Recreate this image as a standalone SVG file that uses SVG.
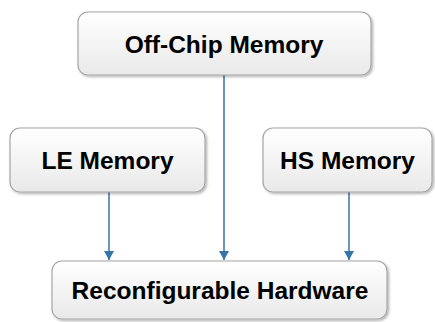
<svg xmlns="http://www.w3.org/2000/svg" width="435" height="322" viewBox="0 0 435 322">
  <defs>
    <linearGradient id="boxfill" x1="0" y1="0" x2="0" y2="1">
      <stop offset="0" stop-color="#ffffff"/>
      <stop offset="1" stop-color="#e9e9e9"/>
    </linearGradient>
    <filter id="shadow" x="-10%" y="-10%" width="120%" height="130%">
      <feDropShadow dx="1.5" dy="1.5" stdDeviation="1.2" flood-color="#000" flood-opacity="0.3"/>
    </filter>
    <marker id="arrow" markerWidth="11" markerHeight="10" refX="9" refY="5" orient="auto" markerUnits="userSpaceOnUse">
      <path d="M0,0 L9,5 L0,10 Z" fill="#3673a8"/>
    </marker>
    <style>
      .box { fill: url(#boxfill); stroke: #a6a6a6; stroke-width: 1.2; filter: url(#shadow); }
      .label { font-family: "Liberation Sans", Arial, sans-serif; font-weight: bold; font-size: 24.5px; fill: #000; text-anchor: middle; }
      .conn { stroke: #3673a8; stroke-width: 1.5; fill: none; marker-end: url(#arrow); }
    </style>
  </defs>
  <g id="connectors">
    <line class="conn" x1="224" y1="75" x2="224" y2="260"/>
    <line class="conn" x1="109" y1="192" x2="109" y2="260"/>
    <line class="conn" x1="349" y1="192" x2="349" y2="260"/>
  </g>
  <g id="offchip">
    <rect class="box" x="78" y="12" width="293" height="63" rx="10"/>
    <text class="label" x="224" y="52.5">Off-Chip Memory</text>
  </g>
  <g id="le">
    <rect class="box" x="10" y="128" width="195" height="64" rx="10"/>
    <text class="label" x="107.5" y="169">LE Memory</text>
  </g>
  <g id="hs">
    <rect class="box" x="263" y="128" width="169" height="64" rx="10"/>
    <text class="label" x="347.5" y="169">HS Memory</text>
  </g>
  <g id="recon">
    <rect class="box" x="52" y="261" width="335" height="58" rx="10"/>
    <text class="label" x="220" y="299">Reconfigurable Hardware</text>
  </g>
</svg>
